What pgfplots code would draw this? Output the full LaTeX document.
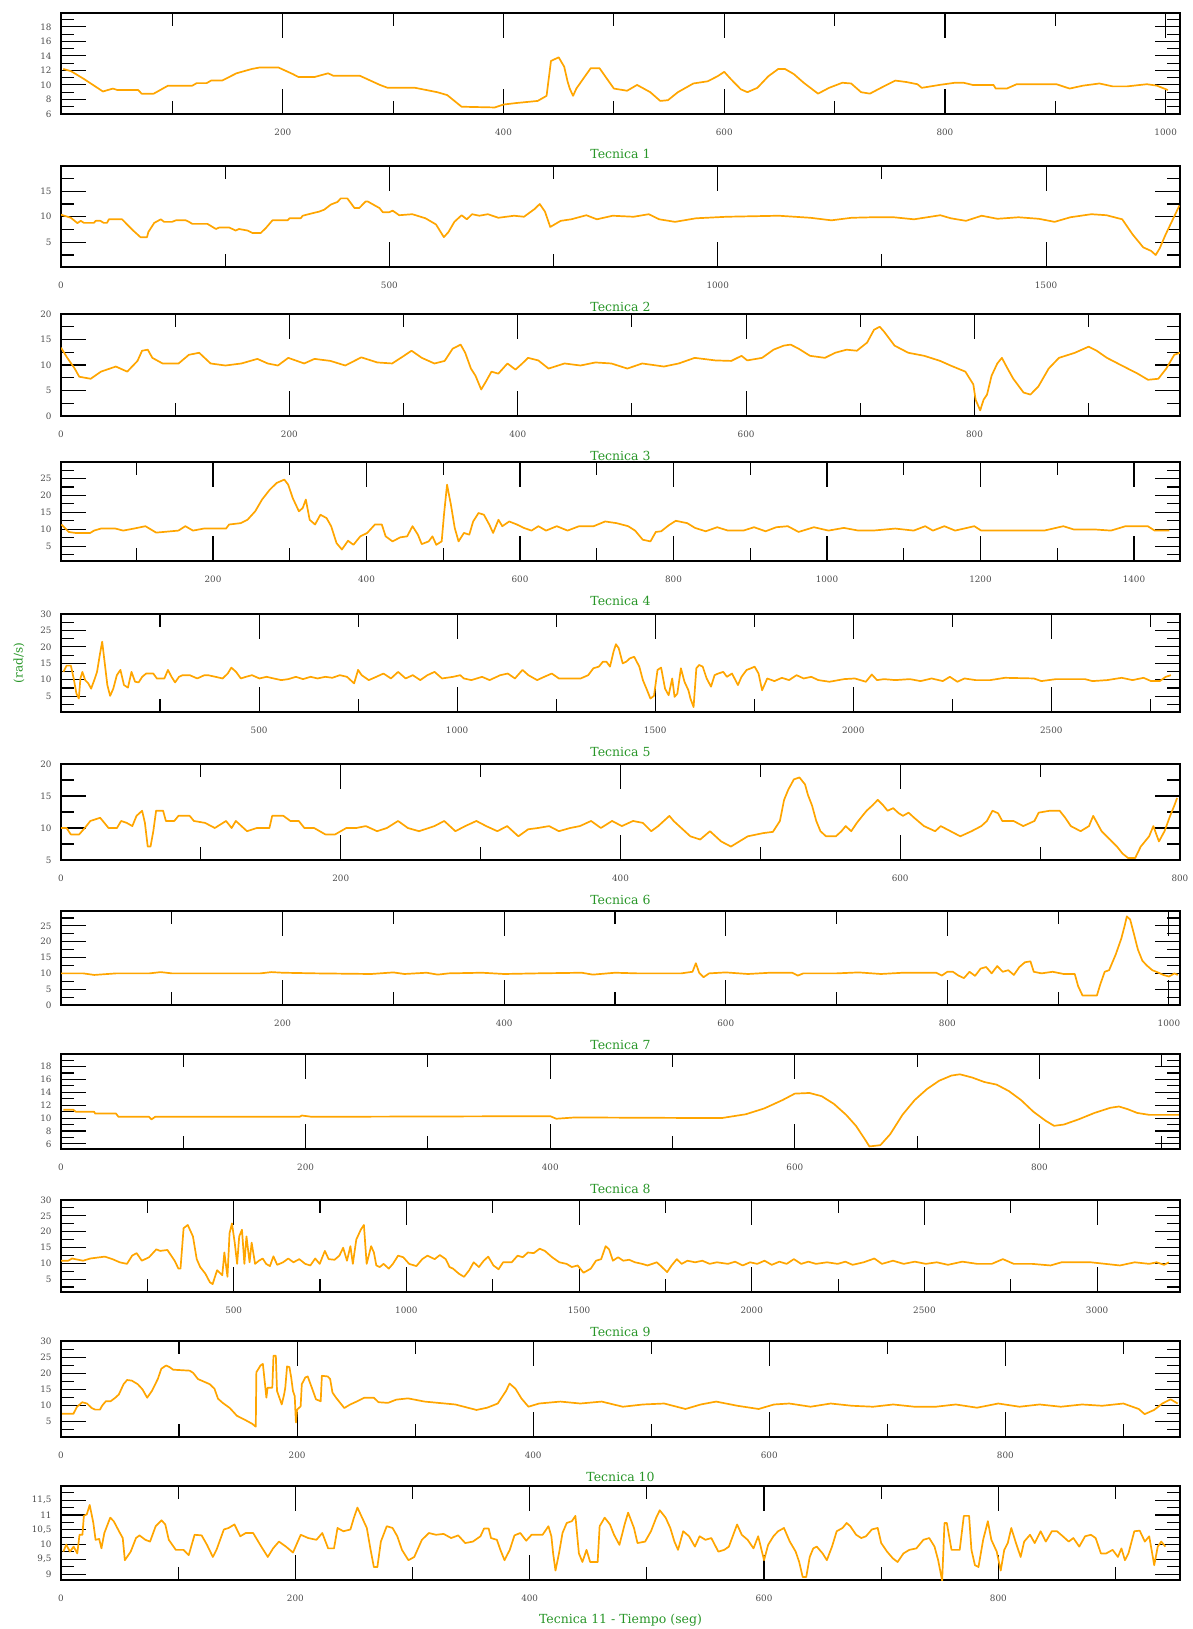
\documentclass[border=0pt]{standalone}
\usepackage{fontspec}
\setmainfont{DejaVu Serif}
\usepackage{pgfplots}
\pgfplotsset{compat=1.18}
\definecolor{tgreen}{RGB}{40,150,40}
\definecolor{lorange}{RGB}{255,165,0}
\tikzset{dat/.style={draw=lorange, line width=1.7pt, mark=none, line join=round}}
\pgfplotsset{
  panel/.style={
    scale only axis, width=1119pt, anchor=north west,
    tick align=inside, tick pos=both,
    major tick length=25pt, minor tick length=13pt,
    every tick/.style={black, line width=1.1pt},
    axis line style={line width=1.3pt},
    ticklabel style={font=\fontsize{8.8}{9}\selectfont, text=black!70},
    xticklabel style={yshift=-11pt},
    yticklabel style={xshift=-6pt},
    /pgf/number format/assume math mode=true,
    /pgf/number format/1000 sep={},
    scaled ticks=false,
    xlabel style={at={(axis description cs:0.5,0)}, anchor=center, yshift=-40pt,
      font=\fontsize{12.5}{14}\selectfont, text=tgreen},
  }
}
\begin{document}
\begin{tikzpicture}
\path[use as bounding box] (0,0) rectangle (1192pt,-1629pt);
\node[rotate=90, text=tgreen, font=\fontsize{12}{14}\selectfont] at (19pt,-663pt) {(rad/s)};

% Panel 1
\begin{axis}[panel, at={(61pt,-13pt)}, height=101pt, xmin=-1, xmax=1013, ymin=6, ymax=19.9,
  xtick={200,400,...,1000}, minor xtick={100,300,...,900},
  ytick={6,8,...,18}, minor ytick={7,9,...,19}, xlabel={Tecnica 1}]
\addplot[dat] coordinates {(1,12.2)(8,11.9)(20,10.8)(37,9.1)(46,9.5)(50,9.3)(69,9.3)(72,8.8)(83,8.8)(96,9.9)(118,9.9)(122,10.25)(131,10.25)(135,10.6)(145,10.6)(158,11.6)(172,12.2)(179,12.4)(196,12.4)(209,11.5)(214,11.1)(229,11.1)(241,11.6)(246,11.25)(270,11.25)(288,10.0)(295,9.6)(320,9.6)(340,9.0)(349,8.6)(362,7.0)(392,6.9)(400,7.3)(411,7.5)(431,7.8)(439,8.5)(443,13.3)(450,13.8)(455,12.5)(458,10.5)(460,9.5)(463,8.5)(466,9.5)(472,10.8)(479,12.3)(487,12.3)(493,11)(500,9.5)(512,9.2)(521,10)(533,9)(542,7.8)(549,7.9)(558,9)(572,10.2)(585,10.5)(594,11.2)(600,11.8)(606,10.8)(615,9.4)(621,9.0)(630,9.6)(640,11.2)(649,12.2)(655,12.2)(663,11.5)(672,10.3)(685,8.8)(695,9.6)(707,10.3)(715,10.2)(724,9.0)(732,8.8)(742,9.6)(755,10.6)(765,10.4)(775,10.1)(779,9.6)(795,10.0)(809,10.3)(817,10.3)(825,10.0)(844,10.0)(846,9.5)(856,9.5)(865,10.1)(901,10.1)(913,9.5)(925,9.9)(940,10.2)(952,9.8)(965,9.8)(983,10.1)(992,9.9)(1002,9.3)};
\end{axis}

% Panel 2
\begin{axis}[panel, at={(61pt,-166pt)}, height=101pt, xmin=0, xmax=1704, ymin=0.15, ymax=19.95,
  xtick={0,500,1000,1500}, minor xtick={250,750,1250},
  ytick={5,10,15}, minor ytick={2.5,7.5,12.5,17.5}, xlabel={Tecnica 2}]
\addplot[dat] coordinates {(0,10.4)(15,9.8)(25,8.75)(30,9.2)(35,8.8)(50,8.8)(53,9.2)(60,9.2)(65,8.8)(70,8.8)(73,9.5)(93,9.5)(109,7.4)(121,6.0)(131,6.0)(133,7.0)(142,8.8)(152,9.5)(157,9.0)(169,9.0)(175,9.3)(190,9.3)(195,9.0)(200,8.6)(223,8.6)(236,7.6)(241,7.9)(256,7.9)(266,7.3)(271,7.6)(284,7.3)(292,6.8)(304,6.8)(312,7.8)(322,9.3)(345,9.3)(348,9.7)(365,9.7)(368,10.2)(383,10.7)(393,11.0)(401,11.4)(411,12.4)(421,12.9)(426,13.6)(436,13.6)(447,11.7)(454,11.7)(464,13.0)(467,13.0)(485,11.7)(490,10.9)(500,10.9)(505,11.2)(515,10.3)(535,10.5)(555,9.7)(571,8.5)(583,6.0)(590,7.0)(599,9.0)(610,10.3)(618,9.5)(626,10.5)(637,10.2)(650,10.5)(666,9.8)(690,10.2)(705,10.0)(721,11.5)(729,12.5)(737,11.0)(745,8.0)(761,9.2)(777,9.5)(800,10.3)(816,9.5)(840,10.2)(872,10.0)(895,10.5)(911,9.5)(935,9.0)(967,9.7)(1014,10.0)(1093,10.2)(1141,9.8)(1173,9.3)(1204,9.8)(1236,9.9)(1268,9.9)(1299,9.5)(1339,10.3)(1355,9.7)(1378,9.2)(1402,10.2)(1426,9.6)(1458,9.9)(1489,9.6)(1513,9.0)(1537,9.9)(1569,10.5)(1592,10.3)(1616,9.5)(1632,6.5)(1648,4.0)(1660,3.3)(1667,2.5)(1673,3.8)(1682,6.5)(1695,10)(1703,12.2)};
\end{axis}

% Panel 3
\begin{axis}[panel, at={(61pt,-314pt)}, height=102pt, xmin=0, xmax=980, ymin=0, ymax=20,
  xtick={0,200,...,800}, minor xtick={100,300,...,900},
  ytick={0,5,...,20}, minor ytick={2.5,7.5,12.5,17.5}, xlabel={Tecnica 3}]
\addplot[dat] coordinates {(0,13.4)(5.5,11.4)(12,9.3)(16,7.7)(26,7.3)(35,8.7)(48,9.7)(58,8.7)(67,10.8)(71,12.8)(76,13.0)(80,11.4)(89,10.3)(103,10.3)(112,12)(121,12.4)(131,10.3)(144,9.9)(158,10.3)(172,11.2)(181,10.3)(190,9.9)(199,11.4)(213,10.3)(222,11.2)(236,10.8)(249,9.9)(263,11.5)(277,10.5)(290,10.3)(299,11.6)(307,12.8)(316,11.4)(327,10.3)(336,10.8)(343,13.2)(350,14.0)(354,12.4)(359,9.3)(363,7.9)(368,5.2)(372,6.7)(377,8.7)(383,8.3)(391,10.3)(398,9.1)(404,10.3)(409,11.4)(418,10.9)(427,9.3)(441,10.3)(455,9.9)(468,10.5)(482,10.3)(496,9.3)(509,10.3)(528,9.7)(541,10.3)(555,11.4)(573,10.9)(587,10.8)(596,11.8)(601,10.9)(614,11.4)(624,13.0)(633,13.8)(639,14.0)(646,13.2)(656,11.8)(669,11.4)(678,12.4)(688,13.0)(697,12.8)(706,14.4)(712,16.9)(717,17.5)(721,16.5)(730,13.8)(742,12.4)(756,11.8)(770,10.8)(779,9.9)(792,8.7)(799,6.2)(801,3.2)(805,1.1)(808,3.2)(811,4.2)(815,7.9)(820,10.3)(824,11.4)(829,9.3)(834,7.3)(843,4.6)(849,4.2)(856,5.8)(865,9.3)(874,11.4)(888,12.4)(900,13.6)(907,12.8)(916,11.4)(929,9.9)(943,8.3)(952,7.1)(961,7.3)(968,9.3)(975,12.0)(980,12.4)};
\end{axis}

% Panel 4
\begin{axis}[panel, at={(61pt,-462pt)}, height=99pt, xmin=2, xmax=1460, ymin=0.6, ymax=29.9,
  xtick={200,400,...,1400}, minor xtick={100,300,...,1300},
  ytick={5,10,...,25}, minor ytick={2.5,7.5,...,27.5}, xlabel={Tecnica 4}]
\addplot[dat] coordinates {(2.6,11.4)(12,9.2)(21,8.9)(40,8.9)(45,9.6)(54,10.2)(73,10.2)(83,9.6)(97,10.2)(112,10.9)(126,9.0)(155,9.6)(164,10.9)(174,9.6)(188,10.2)(217,10.2)(221,11.4)(236,11.8)(245,12.8)(255,15.3)(264,18.8)(274,21.7)(283,23.7)(293,24.7)(298,23.2)(304,19.2)(312,15.3)(317,16.3)(321,18.8)(326,12.8)(333,11.4)(340,14.3)(348,13.3)(354,10.9)(361,5.9)(368,4.0)(376,6.6)(383,5.4)(392,7.9)(401,8.9)(411,11.4)(420,11.4)(425,7.9)(434,6.4)(444,7.6)(453,7.9)(460,10.9)(467,8.4)(472,5.6)(481,6.4)(486,7.9)(491,5.4)(498,6.4)(501,14.3)(505,23.2)(510,17.3)(515,10.4)(520,6.4)(527,8.9)(534,8.4)(539,12.3)(546,14.8)(553,14.3)(560,11.4)(565,8.9)(572,12.8)(577,10.9)(586,12.3)(596,11.4)(605,10.4)(615,9.6)(624,10.9)(634,9.6)(648,10.9)(662,9.6)(677,10.9)(696,10.9)(711,12.3)(726,11.8)(741,10.9)(750,9.6)(760,6.9)(770,6.4)(777,9.2)(784,9.4)(794,11.2)(803,12.5)(818,11.8)(828,10.4)(842,9.4)(857,10.6)(871,9.6)(891,9.6)(905,10.6)(920,9.4)(934,10.6)(949,10.9)(963,9.2)(983,10.6)(1002,9.6)(1022,10.4)(1041,9.6)(1060,9.6)(1089,10.2)(1113,9.6)(1128,10.9)(1138,9.6)(1153,10.9)(1167,9.6)(1192,10.9)(1201,9.6)(1226,9.6)(1283,9.6)(1308,10.9)(1322,9.9)(1351,9.9)(1370,9.6)(1389,10.9)(1418,10.9)(1427,9.6)(1446,9.6)};
\end{axis}

% Panel 5
\begin{axis}[panel, at={(61pt,-614pt)}, height=98pt, xmin=0, xmax=2825, ymin=0.2, ymax=30,
  xtick={500,1000,...,2500}, minor xtick={250,750,...,2750},
  ytick={5,10,...,30}, minor ytick={2.5,7.5,...,27.5}, xlabel={Tecnica 5}]
\addplot[dat] coordinates {(6,12.4)(14,14.3)(25,14.3)(32,10.4)(39,5.8)(45,4.3)(49,10.4)(54,12.4)(61,9.9)(69,8.9)(76,7.3)(84,9.9)(91,12.4)(98,17.6)(104,21.6)(109,16.5)(117,8.4)(124,5.1)(132,7.3)(141,11.4)(150,13.0)(159,8.4)(169,7.6)(178,12.4)(187,9.4)(196,9.2)(205,10.9)(215,11.9)(233,11.9)(242,10.4)(261,10.4)(270,13.0)(279,10.9)(288,9.2)(298,10.9)(307,11.4)(325,11.4)(344,10.4)(362,11.4)(371,11.4)(390,10.9)(408,10.4)(421,11.9)(430,13.7)(442,12.4)(454,10.4)(467,10.9)(482,11.4)(501,10.4)(519,10.9)(537,10.4)(556,9.9)(574,10.2)(593,10.9)(611,10.2)(630,10.9)(648,10.4)(667,10.9)(685,10.6)(704,11.4)(722,10.9)(740,8.9)(750,13.0)(759,11.4)(777,9.9)(796,10.9)(814,11.9)(833,10.4)(851,12.4)(870,10.4)(888,11.4)(907,9.9)(925,11.4)(943,12.4)(962,10.4)(990,10.9)(1008,11.4)(1017,10.4)(1036,9.9)(1063,10.9)(1082,9.9)(1109,11.4)(1128,11.9)(1146,10.4)(1165,13.0)(1180,11.4)(1202,9.9)(1220,10.9)(1239,11.9)(1257,10.4)(1312,10.4)(1331,11.4)(1344,13.5)(1358,14.0)(1368,15.5)(1377,15.5)(1386,14.0)(1395,18.6)(1401,20.8)(1408,19.6)(1418,15.0)(1427,15.5)(1436,16.5)(1447,17.0)(1460,14.0)(1469,9.9)(1478,7.3)(1488,4.3)(1497,5.1)(1506,13.0)(1515,13.7)(1525,7.3)(1534,5.3)(1543,10.4)(1549,4.8)(1556,5.8)(1565,13.5)(1574,9.4)(1584,6.8)(1589,4.3)(1597,1.7)(1604,13.5)(1611,14.5)(1620,14.0)(1630,10.4)(1641,7.9)(1650,11.4)(1659,11.9)(1672,12.4)(1681,10.9)(1694,11.9)(1709,8.4)(1718,10.9)(1731,13.0)(1742,13.5)(1751,14.0)(1761,11.9)(1770,6.8)(1783,10.4)(1801,9.6)(1820,10.6)(1838,9.9)(1857,11.4)(1875,10.4)(1894,10.9)(1912,9.9)(1940,9.4)(1977,10.2)(2004,10.4)(2032,9.4)(2047,11.6)(2060,9.9)(2078,10.2)(2106,9.9)(2143,10.2)(2170,9.6)(2198,10.4)(2226,9.6)(2244,10.9)(2263,9.4)(2281,10.4)(2309,9.9)(2346,9.9)(2383,10.6)(2456,10.4)(2475,9.6)(2512,10.2)(2585,10.2)(2604,9.6)(2641,9.9)(2678,10.6)(2705,9.9)(2733,10.6)(2752,9.6)(2774,9.6)(2789,10.9)(2802,11.4)};
\end{axis}

% Panel 6
\begin{axis}[panel, at={(61pt,-764pt)}, height=96pt, xmin=0, xmax=800, ymin=5, ymax=20,
  xtick={0,200,...,800}, minor xtick={100,300,...,700},
  ytick={5,10,...,20}, minor ytick={7.5,12.5,17.5}, xlabel={Tecnica 6}]
\addplot[dat] coordinates {(0,10.0)(4,10)(7,9.0)(13,9.0)(17,10)(21,11.1)(28,11.6)(34,10)(40,10)(43,11.1)(47,10.8)(51,10.3)(54,11.9)(58,12.7)(60,10.8)(62,7.1)(64,7.1)(66,9.5)(68,12.7)(73,12.7)(75,11.1)(81,11.1)(84,11.9)(92,11.9)(95,11.1)(103,10.8)(110,10)(118,11.1)(122,10)(125,11.1)(133,9.5)(140,10)(149,10)(151,11.9)(159,11.9)(164,11.1)(170,11.1)(174,10)(181,10)(189,9.0)(196,9.0)(204,10)(211,10)(218,10.3)(226,9.5)(233,10)(241,11.1)(248,10)(256,9.5)(267,10.3)(274,11.1)(282,9.5)(289,10.3)(297,11.1)(304,10.3)(312,9.5)(319,10.3)(327,8.7)(334,9.8)(341,10)(349,10.3)(356,9.5)(364,10)(371,10.3)(379,11.1)(386,10)(394,11.1)(401,10.3)(409,11.1)(416,10.8)(422,9.5)(427,10.3)(435,11.9)(438,11.1)(446,9.5)(450,8.7)(457,8.2)(464,9.5)(472,7.9)(479,7.1)(485,7.9)(491,8.7)(502,9.2)(509,9.4)(514,11.1)(517,14.4)(520,16.0)(524,17.6)(528,17.9)(532,16.8)(534,15.2)(537,13.5)(540,11.1)(543,9.5)(547,8.7)(554,8.7)(558,9.5)(561,10.3)(565,9.5)(569,10.8)(573,11.9)(576,12.7)(580,13.5)(584,14.4)(588,13.5)(591,12.7)(595,13.1)(599,12.3)(602,11.9)(606,12.4)(610,11.6)(617,10.3)(625,9.5)(629,10.3)(636,9.5)(643,8.7)(651,9.5)(658,10.3)(662,11.1)(666,12.7)(670,12.3)(673,11.1)(681,11.1)(688,10.3)(696,11.1)(699,12.4)(707,12.7)(714,12.7)(718,11.6)(722,10.3)(729,9.5)(735,10.3)(738,11.9)(740,11.1)(744,9.5)(750,8.2)(755,7.1)(759,6.0)(763,5.3)(768,5.3)(772,7.1)(778,8.7)(781,10.3)(785,7.9)(789,9.5)(793,11.9)(796,13.5)(798,14.7)};
\end{axis}

% Panel 7
\begin{axis}[panel, at={(61pt,-911pt)}, height=94pt, xmin=0, xmax=1010, ymin=0, ymax=29.7,
  xtick={200,400,...,1000}, minor xtick={100,300,...,900},
  ytick={0,5,...,25}, minor ytick={2.5,7.5,...,27.5}, xlabel={Tecnica 7}]
\addplot[dat] coordinates {(0,10)(20,10)(30,9.5)(50,10)(80,10)(90,10.4)(100,10)(180,10)(190,10.4)(200,10.2)(230,10)(280,9.8)(300,10.3)(310,9.8)(330,10.2)(340,9.6)(350,10)(380,10.2)(400,9.8)(430,10)(470,10.2)(480,9.6)(500,10.2)(520,10)(560,10)(570,10.5)(573,13.2)(576,10.2)(580,8.8)(585,10)(600,10.3)(620,9.8)(640,10.2)(660,10.2)(665,9.3)(670,10)(700,10)(720,10.3)(740,9.8)(760,10.2)(790,10.2)(795,9.3)(800,10.5)(805,10.5)(810,9.3)(815,8.5)(820,10.5)(825,9.2)(830,11.5)(835,12)(840,10)(845,12.3)(850,10.5)(855,11)(860,9.5)(865,12)(870,13.5)(875,13.8)(878,10.5)(885,10)(895,10.5)(905,9.8)(915,9.8)(918,6)(922,3)(935,3)(938,6.5)(942,10.5)(946,11)(952,16)(957,21)(960,25)(962,28)(965,27)(968,23)(972,17.5)(976,14)(980,12.5)(985,11)(990,10.3)(995,9.5)(1000,9.0)(1005,10.0)(1008,9.5)};
\end{axis}

% Panel 8
\begin{axis}[panel, at={(61pt,-1054pt)}, height=95pt, xmin=0, xmax=915, ymin=5.2, ymax=19.95,
  xtick={0,200,...,800}, minor xtick={100,300,...,900},
  ytick={6,8,...,18}, minor ytick={7,9,...,19}, xlabel={Tecnica 8}]
\addplot[dat] coordinates {(2,11.3)(10,11.3)(12,11.0)(27,11.0)(28,10.7)(45,10.7)(47,10.2)(72,10.2)(74,9.8)(77,10.2)(195,10.2)(197,10.4)(205,10.2)(400,10.3)(405,9.9)(420,10.1)(540,10.0)(560,10.6)(575,11.5)(590,12.8)(600,13.8)(612,13.9)(622,13.4)(632,12.2)(642,10.5)(650,8.8)(657,6.8)(661,5.6)(670,5.8)(678,7.5)(688,10.5)(698,12.8)(708,14.5)(718,15.8)(728,16.6)(735,16.8)(745,16.3)(755,15.6)(765,15.2)(775,14.2)(785,12.8)(795,11.0)(805,9.6)(812,8.8)(820,9.0)(832,9.8)(845,10.8)(858,11.6)(865,11.8)(872,11.4)(880,10.8)(890,10.5)(914,10.5)};
\end{axis}

% Panel 9
\begin{axis}[panel, at={(61pt,-1200pt)}, height=92pt, xmin=0, xmax=3240, ymin=0.9, ymax=30,
  xtick={500,1000,...,3000}, minor xtick={250,750,...,2750},
  ytick={5,10,...,30}, minor ytick={2.5,7.5,...,27.5}, xlabel={Tecnica 9}]
\addplot[dat] coordinates {(0,10.8)(21,10.8)(32,11.5)(64,10.8)(85,11.5)(127,12.1)(149,11.3)(170,10.3)(191,9.8)(206,12.4)(219,13.2)(234,10.8)(255,11.9)(276,14.4)(287,13.9)(308,14.2)(329,10.8)(340,8.3)(346,8.3)(355,21.1)(367,22.1)(382,18.5)(393,11.3)(403,8.8)(418,6.7)(431,4.0)(439,3.4)(452,7.8)(467,6.2)(473,13.4)(482,5.7)(488,19.5)(495,22.6)(503,16.5)(510,9.8)(516,18.5)(524,20.6)(531,9.8)(537,18.5)(546,10.3)(552,16.5)(562,9.8)(573,10.8)(584,11.5)(594,9.8)(605,9.1)(615,12.2)(626,9.5)(643,10.3)(658,11.5)(673,10.3)(690,11.3)(707,9.8)(722,9.3)(736,11.5)(749,9.8)(764,13.9)(775,11.3)(792,11.1)(806,12.4)(817,14.9)(828,10.8)(838,15.4)(845,9.8)(855,17.5)(868,20.6)(877,22.1)(885,9.8)(898,15.4)(906,13.4)(913,9.3)(923,8.8)(934,9.8)(949,8.3)(961,9.8)(976,12.4)(991,11.9)(1008,9.8)(1029,9.1)(1046,11.3)(1061,12.4)(1082,11.3)(1097,12.6)(1114,11.3)(1125,8.8)(1135,8.3)(1152,6.7)(1167,5.7)(1182,7.8)(1195,10.3)(1210,8.8)(1224,10.8)(1237,12.1)(1252,9.3)(1267,8.1)(1280,10.3)(1305,10.3)(1322,12.4)(1337,11.9)(1352,13.4)(1369,13.2)(1386,14.6)(1401,13.9)(1422,11.9)(1443,10.3)(1464,9.8)(1479,8.8)(1496,9.3)(1513,7.0)(1534,8.3)(1549,10.8)(1564,11.3)(1577,15.4)(1587,14.4)(1598,10.8)(1613,11.9)(1628,10.8)(1645,11.1)(1662,10.3)(1683,9.8)(1698,9.3)(1712,9.8)(1725,10.3)(1740,8.8)(1755,7.2)(1768,9.3)(1783,11.3)(1797,9.8)(1814,10.8)(1836,10.3)(1857,10.8)(1878,9.8)(1899,10.3)(1931,9.8)(1952,10.5)(1974,9.3)(1995,10.3)(2016,9.8)(2037,10.8)(2058,9.5)(2080,10.5)(2101,9.8)(2122,11.3)(2143,9.8)(2164,10.5)(2186,9.8)(2218,10.3)(2249,9.8)(2271,10.5)(2292,9.5)(2324,10.3)(2355,11.5)(2377,9.8)(2409,10.8)(2440,9.8)(2472,10.5)(2504,9.8)(2536,10.3)(2568,9.5)(2610,10.5)(2653,9.8)(2695,9.8)(2727,11.3)(2759,9.8)(2812,9.8)(2865,9.3)(2897,10.3)(2982,10.3)(3024,9.8)(3066,9.3)(3109,10.3)(3151,9.8)(3172,10.3)(3194,9.5)(3208,10.3)};
\end{axis}

% Panel 10
\begin{axis}[panel, at={(61pt,-1341pt)}, height=96pt, xmin=0, xmax=948, ymin=0.2, ymax=30,
  xtick={0,200,...,800}, minor xtick={100,300,...,900},
  ytick={5,10,...,30}, minor ytick={2.5,7.5,...,27.5}, xlabel={Tecnica 10}]
\addplot[dat] coordinates {(1,7.4)(10.5,7.4)(13.4,9.5)(18,11.0)(22,10.6)(26,9.2)(29,8.7)(33,8.7)(35,10.0)(38,11.3)(42,11.3)(46,12.4)(49,13.4)(53,16.6)(56,17.9)(60,17.7)(65,16.6)(69,15.0)(73,12.4)(77,14.5)(82,18.2)(85,21.4)(89,22.4)(92,21.9)(95,21.1)(109,20.8)(112,20.1)(116,18.2)(126,16.6)(130,15.2)(133,12.1)(137,10.8)(143,9.2)(149,6.8)(156,5.5)(162,4.3)(165,3.4)(165.5,20.3)(169,22.4)(171,22.9)(172.5,17.7)(174,12.4)(175,15.5)(179,15.5)(180,25.4)(182,25.4)(183,14.5)(185,12.4)(187,10.3)(189,13.4)(190,15.5)(191.5,22.1)(193.5,21.9)(195,18.7)(196.5,14.5)(198,12.9)(199,4.7)(200,8.7)(203,9.7)(204,16.6)(207,18.7)(209,19.0)(213,15.0)(216,11.9)(220,11.3)(221,19.2)(226,19.0)(228,18.2)(230,14.0)(233,12.4)(240,9.2)(245,10.3)(251,11.3)(257,12.4)(265,12.4)(269,11.0)(277,10.8)(284,11.8)(294,12.2)(308,11.2)(334,10.3)(352,8.6)(361,9.3)(370,10.6)(377,14.5)(380,16.8)(385,15.2)(390,12.2)(396,9.6)(405,10.6)(423,11.2)(440,10.6)(458,11.2)(476,9.6)(493,10.3)(511,10.6)(529,8.9)(542,10.3)(555,11.2)(573,9.9)(591,8.9)(604,10.3)(617,10.6)(635,9.6)(652,10.6)(670,9.9)(688,9.6)(705,10.3)(723,9.6)(741,9.6)(758,10.3)(776,9.3)(794,10.6)(812,9.6)(829,10.3)(847,9.6)(865,10.3)(882,9.9)(900,10.6)(913,8.9)(918,7.3)(926,8.6)(933,10.6)(940,11.9)(946,10.6)};
\end{axis}

% Panel 11
\begin{axis}[panel, at={(61pt,-1486pt)}, height=94pt, xmin=0, xmax=955, ymin=8.8, ymax=11.98,
  xtick={0,200,...,800}, minor xtick={100,300,...,900},
  ytick={9,9.5,10,10.5,11,11.5}, yticklabels={9,{9,5},10,{10,5},11,{11,5}},
  minor ytick={9.25,9.75,10.25,10.75,11.25,11.75}, xlabel={Tecnica 11 - Tiempo (seg)}]
\addplot[dat] coordinates {(2,9.76)(4.5,10.0)(7.6,9.76)(10.8,9.93)(13.9,9.7)(15.8,10.33)(18.3,10.33)(19.5,10.97)(22,11.02)(24.5,11.34)(27.6,10.73)(29.5,10.16)(32.6,10.19)(34.5,9.87)(37,10.39)(42,10.91)(45,10.79)(49.5,10.45)(52.7,10.22)(54.5,9.47)(59.5,9.76)(64,10.22)(67,10.31)(72,10.16)(76,10.10)(80.8,10.62)(85.8,10.82)(89,10.68)(92,10.16)(98,9.82)(104.5,9.82)(109,9.64)(114,10.33)(120,10.31)(124.6,9.99)(129.6,9.58)(132.7,9.82)(139,10.51)(143,10.56)(148,10.68)(153,10.28)(157.7,10.39)(164,10.39)(170,9.99)(176.5,9.58)(181,9.87)(186,10.10)(192,9.93)(198,9.73)(204.6,10.33)(211,10.22)(218,10.16)(223,10.39)(228,9.87)(233,9.87)(236,10.56)(241,10.45)(247,10.51)(250,10.91)(253,11.25)(258,10.82)(261,10.56)(264,9.87)(267,9.24)(270,9.24)(273,10.10)(278,10.62)(283,10.56)(287,10.28)(291,9.82)(296.5,9.47)(301.5,9.58)(308,10.16)(314,10.39)(320,10.33)(326.5,10.36)(333,10.22)(339,10.31)(345,10.05)(351.5,10.10)(358,10.28)(361,10.54)(365,10.54)(367,10.22)(372,10.16)(375,9.82)(378.5,9.47)(383,9.82)(387,10.31)(392,10.39)(397,10.13)(401.6,10.33)(411,10.33)(416,10.62)(418.5,10.28)(420,9.70)(422,9.12)(425,9.70)(428,10.39)(431.6,10.73)(436,10.79)(439,10.97)(442,9.70)(445,9.41)(448.5,9.82)(451.6,9.41)(458,9.41)(459.7,10.62)(464,10.91)(468.5,10.68)(472,10.33)(476.6,9.99)(481,10.68)(484,11.08)(489,10.56)(492,10.05)(498.5,10.10)(503.5,10.45)(508,10.91)(511,11.16)(516,10.91)(520,10.56)(523.5,10.10)(526.6,9.82)(531,10.45)(536,10.28)(541,9.93)(545,10.28)(550,10.16)(555,10.22)(561,9.76)(566,9.82)(570,9.93)(577,10.68)(581,10.33)(586,10.16)(591,9.87)(595,10.28)(600,9.47)(603.5,9.99)(608,10.28)(612,10.45)(617,10.56)(622,10.10)(627,9.76)(630,9.41)(633,8.90)(636,8.90)(639,9.58)(642,9.87)(645,9.93)(650,9.70)(653.6,9.47)(658,9.93)(662,10.45)(667,10.56)(670.5,10.73)(673.6,10.62)(678.6,10.33)(683,10.22)(687,10.28)(692,10.51)(697,10.56)(700,10.05)(705,9.76)(710,9.53)(714,9.41)(719,9.70)(724,9.82)(730,9.87)(736,10.16)(741,10.22)(745.5,9.93)(748.6,9.47)(752,8.78)(754,10.73)(756,10.73)(760,9.82)(767,9.82)(770.5,10.97)(775,10.97)(777,9.82)(780,9.30)(783,9.24)(787,10.16)(791,10.79)(794,10.16)(798.6,9.76)(802,9.12)(805,9.82)(808,10.05)(811,10.56)(815,10.05)(819,9.58)(822,10.10)(827,10.33)(831,10.05)(836,10.45)(840.5,10.10)(845.6,10.45)(850,10.45)(855,10.28)(860,10.10)(864,10.22)(869,9.93)(874,10.28)(879,10.33)(883,10.22)(887.5,9.70)(892,9.70)(897.5,9.82)(902,9.58)(905,9.87)(908,9.47)(911,9.70)(916,10.45)(920.6,10.47)(925,10.10)(928.7,10.28)(931,9.76)(933,9.30)(936,9.93)(939,10.10)(942.5,9.93)};
\end{axis}
\end{tikzpicture}
\end{document}
